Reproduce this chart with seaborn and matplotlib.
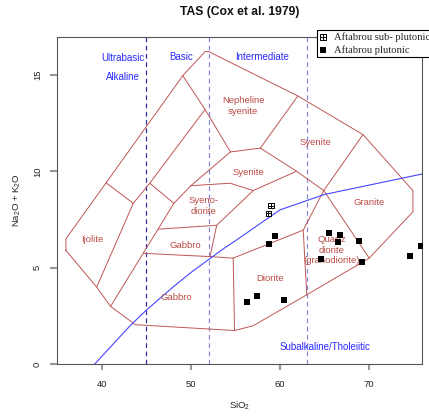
import matplotlib
matplotlib.use("Agg")
import matplotlib.pyplot as plt
from matplotlib.path import Path
import pandas as pd
import seaborn as sns

# ---------------- data ----------------
plut_sio2 = [65.5, 66.7, 66.45, 68.8, 64.65, 69.2, 59.45, 58.8, 57.45, 56.35, 60.5, 74.55, 75.75]
plut_alk = [6.8, 6.7, 6.35, 6.4, 5.45, 5.3, 6.65, 6.25, 3.55, 3.25, 3.35, 5.6, 6.15]
sub_sio2 = [59.0, 58.7]
sub_alk = [8.22, 7.82]

# field boundaries (Cox et al. 1979, plutonic)
outer_x = [36.0, 36.0, 40.5, 49.1, 51.6, 52.0, 62.0, 69.3, 74.9, 74.9, 70.0, 63.0, 57.0, 54.9, 43.8, 41.0, 39.45, 36.0]
outer_y = [5.9, 6.5, 9.4, 14.95, 16.2, 16.2, 13.9, 11.9, 9.0, 7.9, 5.5, 3.6, 2.0, 1.75, 2.05, 3.0, 4.0, 5.9]
ijolite_top_x = [40.5, 43.55]
ijolite_top_y = [9.4, 8.34]
ijolite_right_x = [39.45, 43.55, 45.4, 51.6]
ijolite_right_y = [4.0, 8.34, 9.38, 13.2]
gabbro_left_x = [41.0, 44.66, 46.33, 48.1, 45.4]
gabbro_left_y = [3.0, 5.75, 7.0, 8.34, 9.38]
neph_left_x = [49.1, 51.6, 54.45]
neph_left_y = [14.95, 13.2, 11.0]
tephri_x = [48.1, 50.0, 54.45]
tephri_y = [8.34, 9.25, 11.0]
neph_bottom_x = [54.45, 57.8, 62.0]
neph_bottom_y = [11.0, 11.2, 13.9]
syenite_low_x = [57.8, 61.85, 64.9, 69.3]
syenite_low_y = [11.2, 10.0, 9.0, 11.9]
syenodio_top_x = [50.0, 54.4, 57.0, 61.85]
syenodio_top_y = [9.25, 9.38, 9.0, 10.0]
syenodio_bot_x = [57.0, 52.9, 46.33]
syenodio_bot_y = [9.0, 7.2, 7.0]
gabbro_mid_x = [52.9, 52.15]
gabbro_mid_y = [7.2, 5.58]
gabbro_top_x = [44.66, 52.15, 54.75]
gabbro_top_y = [5.75, 5.58, 5.5]
diorite_left_x = [54.75, 54.9]
diorite_left_y = [5.5, 1.75]
diorite_top_x = [54.75, 62.6, 64.9]
diorite_top_y = [5.5, 6.95, 9.0]
qdiorite_left_x = [62.6, 63.0]
qdiorite_left_y = [6.95, 3.6]
granite_x = [64.9, 70.0]
granite_y = [9.0, 5.5]

# Irvine & Baragar alkaline / subalkaline divide
ib_x = [39.2, 40, 43.2, 45, 48, 50, 53.7, 55, 60, 65, 77.4]
ib_y = [0, 0.4, 2, 2.8, 4, 4.75, 6, 6.4, 8, 8.8, 10]

sio2_div = [45, 52, 63]

field_names = ["Nepheline\nsyenite", "Syenite", "Syenite", "Syeno-\ndiorite", "Ijolite",
               "Gabbro", "Gabbro", "Diorite", "Quartz\ndiorite\n(granodiorite)", "Granite"]
field_x = [55.87, 63.95, 56.45, 51.4, 38.9, 49.35, 48.4, 58.9, 65.8, 70.0]
field_y = [13.38, 11.47, 9.95, 8.2, 6.48, 6.13, 3.45, 4.42, 5.92, 8.39]

group_names = ["Ultrabasic", "Alkaline", "Basic", "Intermediate", "Subalkaline/Tholeiitic"]
group_x = [42.4, 42.4, 48.9, 58.0, 65.0]
group_y = [15.87, 14.89, 15.92, 15.92, 0.91]

x_ticks = [40, 50, 60, 70]
y_ticks = [0, 5, 10, 15]

# ---------------- style ----------------
sns.set_style("white")
plt.rcParams["font.family"] = ["Liberation Sans", "DejaVu Sans"]
plt.rcParams["mathtext.fontset"] = "custom"
plt.rcParams["mathtext.rm"] = "Liberation Sans"
plt.rcParams["mathtext.it"] = "Liberation Sans"
plt.rcParams["mathtext.default"] = "regular"

fig = plt.figure(figsize=(4.29, 4.16), dpi=100)
ax = fig.add_axes([57 / 429, (416 - 364.3) / 416, 365.3 / 429, 327.6 / 416])

line_col = "#bf5656"
boundaries = [
    (outer_x, outer_y), (ijolite_top_x, ijolite_top_y), (ijolite_right_x, ijolite_right_y),
    (gabbro_left_x, gabbro_left_y), (neph_left_x, neph_left_y), (tephri_x, tephri_y),
    (neph_bottom_x, neph_bottom_y), (syenite_low_x, syenite_low_y),
    (syenodio_top_x, syenodio_top_y), (syenodio_bot_x, syenodio_bot_y),
    (gabbro_mid_x, gabbro_mid_y), (gabbro_top_x, gabbro_top_y),
    (diorite_left_x, diorite_left_y), (diorite_top_x, diorite_top_y),
    (qdiorite_left_x, qdiorite_left_y), (granite_x, granite_y),
]
for bx, by in boundaries:
    ax.plot(bx, by, color=line_col, lw=0.7, zorder=2)

# SiO2 dividers
div_cols = ["#2a2aa0", "#8585da", "#8585da"]
for xv, c in zip(sio2_div, div_cols):
    ax.plot([xv, xv], [0, 17], color=c, lw=0.85, ls=(0, (4, 3)), zorder=1)

# alkaline/subalkaline line
ib_df = pd.DataFrame({"x": ib_x, "y": ib_y})
sns.lineplot(data=ib_df, x="x", y="y", sort=False, color="#4646ff", lw=0.8, ax=ax, zorder=3)

for name, fx, fy in zip(field_names, field_x, field_y):
    ax.text(fx, fy, name, color="#bb4a44", fontsize=6.8, ha="center", va="center",
            linespacing=1.15, zorder=4)
for name, gx, gy in zip(group_names, group_x, group_y):
    ax.text(gx, gy, name, color="#2a2aff", fontsize=7.0, ha="center", va="center", zorder=4)

# points
verts = [(-1, -1), (1, -1), (1, 1), (-1, 1), (-1, -1), (0, -1), (0, 1), (-1, 0), (1, 0)]
codes = [Path.MOVETO, Path.LINETO, Path.LINETO, Path.LINETO, Path.CLOSEPOLY,
         Path.MOVETO, Path.LINETO, Path.MOVETO, Path.LINETO]
boxplus = Path(verts, codes)

sub_df = pd.DataFrame({"SiO2": sub_sio2, "alk": sub_alk})
plut_df = pd.DataFrame({"SiO2": plut_sio2, "alk": plut_alk})
sns.scatterplot(data=sub_df, x="SiO2", y="alk", marker=boxplus, s=14, facecolor="none",
                edgecolor="black", linewidth=0.7, ax=ax, zorder=5,
                label="Aftabrou sub- plutonic")
sns.scatterplot(data=plut_df, x="SiO2", y="alk", marker="s", s=13, color="black",
                linewidth=0, ax=ax, zorder=5, label="Aftabrou plutonic")

ax.set_xlim(35, 75.95)
ax.set_ylim(0, 16.97)
ax.set_xticks(x_ticks)
ax.set_yticks(y_ticks)
ax.set_xticklabels([str(v) for v in x_ticks])
ax.set_yticklabels([str(v) for v in y_ticks], rotation=90, va="center")
ax.tick_params(axis="x", length=4, width=1.5, color="#999999", pad=7, labelsize=6.8,
               labelcolor="#222222")
ax.tick_params(axis="y", length=4.8, width=1.5, color="#999999", pad=6, labelsize=6.8,
               labelcolor="#222222")
ax.xaxis.set_ticks_position("bottom")
ax.yaxis.set_ticks_position("left")
for sp in ax.spines.values():
    sp.set_color("#555555")
    sp.set_linewidth(0.8)
    sp.set_visible(True)

ax.set_xlabel("SiO$_2$", fontsize=6.8, color="#222222")
ax.set_ylabel("Na$_2$O + K$_2$O", fontsize=6.8, color="#222222")
ax.xaxis.label.set_va("center")
ax.yaxis.label.set_va("center")
ax.xaxis.set_label_coords(0.5, -(406 - 364.3) / 327.6)
ax.yaxis.set_label_coords(-(57 - 17) / 365.3, 0.5)

ax.text(0.5, 1 + (36.7 - 12) / 327.6, "TAS (Cox et al. 1979)", transform=ax.transAxes,
        ha="center", va="center", fontsize=8.7, fontweight="bold", color="#111111")

leg = ax.legend(loc="upper left", bbox_to_anchor=(316.7 / 429, 1 - 30 / 416),
                bbox_transform=fig.transFigure, borderaxespad=0, frameon=True,
                fancybox=False, framealpha=1, edgecolor="black",
                prop={"family": ["Liberation Serif"], "size": 7.6},
                handlelength=0.8, handletextpad=0.6, borderpad=0.2, labelspacing=0.3,
                markerscale=1.2)
leg.get_frame().set_linewidth(0.8)
leg.set_zorder(10)

fig.savefig("out.png", dpi=100)
